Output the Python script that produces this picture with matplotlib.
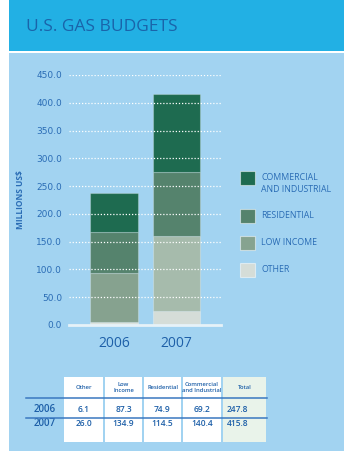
import matplotlib.pyplot as plt
from matplotlib.patches import Rectangle

# budget components, millions of US$
years = ["2006", "2007"]
series = ["OTHER", "LOW INCOME", "RESIDENTIAL", "COMMERCIAL\nAND INDUSTRIAL"]
other = [6.1, 26.0]
low_income = [87.3, 134.9]
residential = [74.9, 114.5]
commercial = [69.2, 140.4]
totals = [247.8, 415.8]
table_headers = ["Other", "Low\nIncome", "Residential", "Commercial\nand Industrial", "Total"]
y_ticks = [0, 50, 100, 150, 200, 250, 300, 350, 400, 450]

# segment colours per year (bottom to top)
seg_colors = [
    ["#dce3de", "#d5ddd8"],
    ["#86a28f", "#a6bbac"],
    ["#55836d", "#55836d"],
    ["#1e6b50", "#1e6b50"],
]
legend_colors = ["#d5ddd8", "#86a390", "#55836d", "#1e6b50"]

W, H = 344, 451
BLUE_TXT = "#2a6cb5"
DARK_TXT = "#1d5fa8"
PANEL = "#a2d3f1"

fig = plt.figure(figsize=(W / 100, H / 100), dpi=100)
fig.patch.set_facecolor("white")

# background layer in pixel coordinates
bg = fig.add_axes([0, 0, 1, 1], zorder=0)
bg.set_xlim(0, W)
bg.set_ylim(H, 0)
bg.axis("off")
bg.add_patch(Rectangle((9, 0), W - 9, 51, color="#22b0e4", lw=0))
bg.add_patch(Rectangle((9, 53), W - 9, H - 53, color=PANEL, lw=0))
bg.text(26, 27, "U.S. GAS BUDGETS", color="#1a64aa", fontsize=12.5,
        family="Open Sans", va="center", ha="left")

# stacked bars
ax = fig.add_axes([69 / W, (H - 325) / H, 152 / W, 250 / H], zorder=2)
ax.set_facecolor("none")
x = [0, 1]
bottoms = [0.0, 0.0]
for vals, cols in zip([other, low_income, residential, commercial], seg_colors):
    ax.bar(x, vals, width=0.76, bottom=bottoms, color=cols,
           edgecolor=(1, 1, 1, 0.25), linewidth=0.8, zorder=2)
    bottoms = [b + v for b, v in zip(bottoms, vals)]

ax.set_xlim(-0.72, 1.712)
ax.set_ylim(0, 450)
ax.set_yticks(y_ticks)
ax.set_yticklabels([f"{t:.1f}" for t in y_ticks], color=BLUE_TXT,
                   fontsize=6.5, family="DejaVu Sans")
for t in y_ticks[1:]:
    ax.axhline(t, color="white", lw=0.9, ls=(0, (1, 1.5)), zorder=3)
ax.axhline(0, color="#e6f2f8", lw=2, zorder=3, clip_on=False)
ax.tick_params(axis="y", length=0, pad=5)
ax.set_xticks(x)
ax.set_xticklabels(years, color=DARK_TXT, fontsize=10, family="Open Sans")
ax.tick_params(axis="x", length=0, pad=8)
for s in ax.spines.values():
    s.set_visible(False)
ax.set_ylabel("MILLIONS US$", color=BLUE_TXT, fontsize=6, fontweight="bold",
              family="Open Sans")
ax.yaxis.set_label_coords(-0.29, 0.5)

# legend, top entry first
legend_y = [177.5, 216, 242.5, 270]
for name, col, ly in zip(series[::-1], legend_colors[::-1], legend_y):
    bg.add_patch(Rectangle((239.5, ly - 7), 15, 14, facecolor=col,
                           edgecolor=(1, 1, 1, 0.5), lw=0.8, zorder=2))
    ty = ly - 4 if "\n" in name else ly
    bg.text(261, ty, name, color=BLUE_TXT, fontsize=6.3, family="Open Sans",
            va="top" if "\n" in name else "center", ha="left",
            linespacing=1.35, zorder=2)

# data table
col_edges = [63, 104, 143, 182, 222, 267]
top, head_bot, row_line, bot = 377, 398, 418, 442
for i in range(5):
    x0, x1 = col_edges[i] + 0.7, col_edges[i + 1] - 0.7
    fc = "#e9f3ea" if i == 4 else "white"
    bg.add_patch(Rectangle((x0, top), x1 - x0, bot - top, color=fc, lw=0, zorder=2))
    bg.text((x0 + x1) / 2, (top + head_bot) / 2, table_headers[i], color=DARK_TXT,
            fontsize=4.2, family="Open Sans", fontweight="semibold",
            ha="center", va="center", linespacing=1.3, zorder=3)
for ly in (head_bot, row_line):
    bg.plot([26, 267], [ly, ly], color="#3a78c0", lw=1.1, zorder=4)

rows = [other, low_income, residential, commercial]
row_y = [409, 424]
for j, yr in enumerate(years):
    bg.text(45, row_y[j], yr, color=DARK_TXT, fontsize=7, family="Open Sans",
            fontweight="semibold", ha="center", va="center", zorder=3)
    for i in range(4):
        cx = (col_edges[i] + col_edges[i + 1]) / 2
        bg.text(cx, row_y[j], f"{rows[i][j]:.1f}", color=DARK_TXT, fontsize=6,
                family="Open Sans", fontweight="semibold",
                ha="center", va="center", zorder=3)
    bg.text(227, row_y[j], f"{totals[j]:.1f}", color=DARK_TXT, fontsize=6,
            family="Open Sans", fontweight="semibold",
            ha="left", va="center", zorder=3)

fig.savefig("out.png", dpi=100)
